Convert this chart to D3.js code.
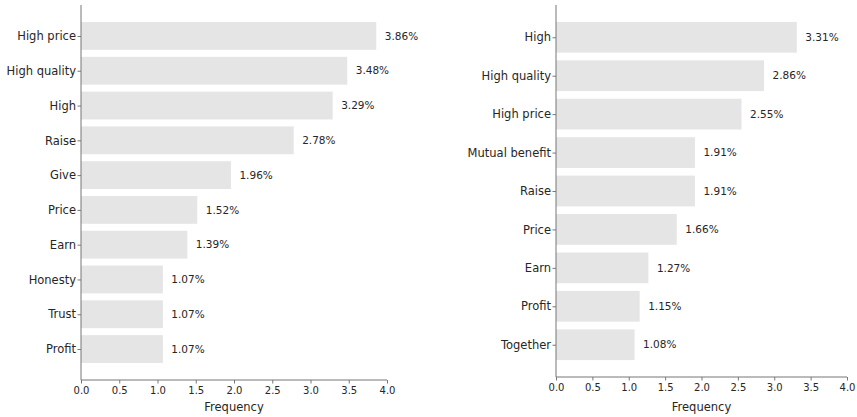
<!DOCTYPE html>
<html>
<head>
<meta charset="utf-8">
<script src="https://cdn.jsdelivr.net/npm/d3@7"></script>
<style>
body { margin: 0; background: #fff; }
svg text { font-family: "DejaVu Sans", sans-serif; fill: #262626; }
.axis path, .axis line { stroke: #777; }
</style>
</head>
<body>
<svg id="chart" width="857" height="417"></svg>
<script>
// left panel
var leftNames = ["High price","High quality","High","Raise","Give","Price","Earn","Honesty","Trust","Profit"];
var leftValues = [3.86,3.48,3.29,2.78,1.96,1.52,1.39,1.07,1.07,1.07];
// right panel
var rightNames = ["High","High quality","High price","Mutual benefit","Raise","Price","Earn","Profit","Together"];
var rightValues = [3.31,2.86,2.55,1.91,1.91,1.66,1.27,1.15,1.08];
var xTicks = [0,0.5,1,1.5,2,2.5,3,3.5,4];

var svg = d3.select("#chart");

function drawPanel(names, values, x0, x1, y0, y1){
	var n = names.length;
	var pad = (n - 0.2) * 0.05 + 0.4;
	var x = d3.scaleLinear().domain([0, 4]).range([x0, x1]);
	var y = d3.scaleLinear().domain([-pad, n - 1 + pad]).range([y0, y1]);
	var g = svg.append("g");

	g.selectAll(".bar")
		.data(values)
	.enter().append("rect")
		.attr("class", "bar")
		.attr("x", x(0))
		.attr("y", function(d,i){ return y(i - 0.4); })
		.attr("width", function(d){ return x(d) - x(0); })
		.attr("height", y(0.8) - y(0))
		.style("fill", "#e4e5e4");

	g.selectAll(".val")
		.data(values)
	.enter().append("text")
		.attr("class", "val")
		.attr("x", function(d){ return x(d) + 8.5; })
		.attr("y", function(d,i){ return y(i); })
		.attr("dy", "0.35em")
		.style("font-size", "10.5px")
		.text(function(d){ return d.toFixed(2) + "%"; });

	// x axis
	var xa = g.append("g")
		.attr("class", "axis")
		.attr("transform", "translate(0," + y1 + ")")
		.call(d3.axisBottom(x).tickValues(xTicks).tickSize(3.5).tickPadding(3)
			.tickFormat(d3.format(".1f")));
	xa.select(".domain").attr("d", "M" + x0 + ",0H" + x1);
	xa.selectAll("text").style("font-size", "10px");

	// y axis
	var ya = g.append("g")
		.attr("class", "axis")
		.attr("transform", "translate(" + x0 + ",0)")
		.call(d3.axisLeft(y).tickValues(d3.range(n)).tickSize(3.5).tickPadding(1.5)
			.tickFormat(function(i){ return names[i]; }));
	ya.select(".domain").attr("d", "M0," + y0 + "V" + y1);
	ya.selectAll("text").style("font-size", "11.5px");

	g.append("text")
		.attr("x", (x0 + x1) / 2)
		.attr("y", 411)
		.attr("text-anchor", "middle")
		.style("font-size", "11.5px")
		.text("Frequency");
}

drawPanel(leftNames, leftValues, 81, 387, 5, 380);
drawPanel(rightNames, rightValues, 556, 847, 5, 377);
</script>
</body>
</html>
